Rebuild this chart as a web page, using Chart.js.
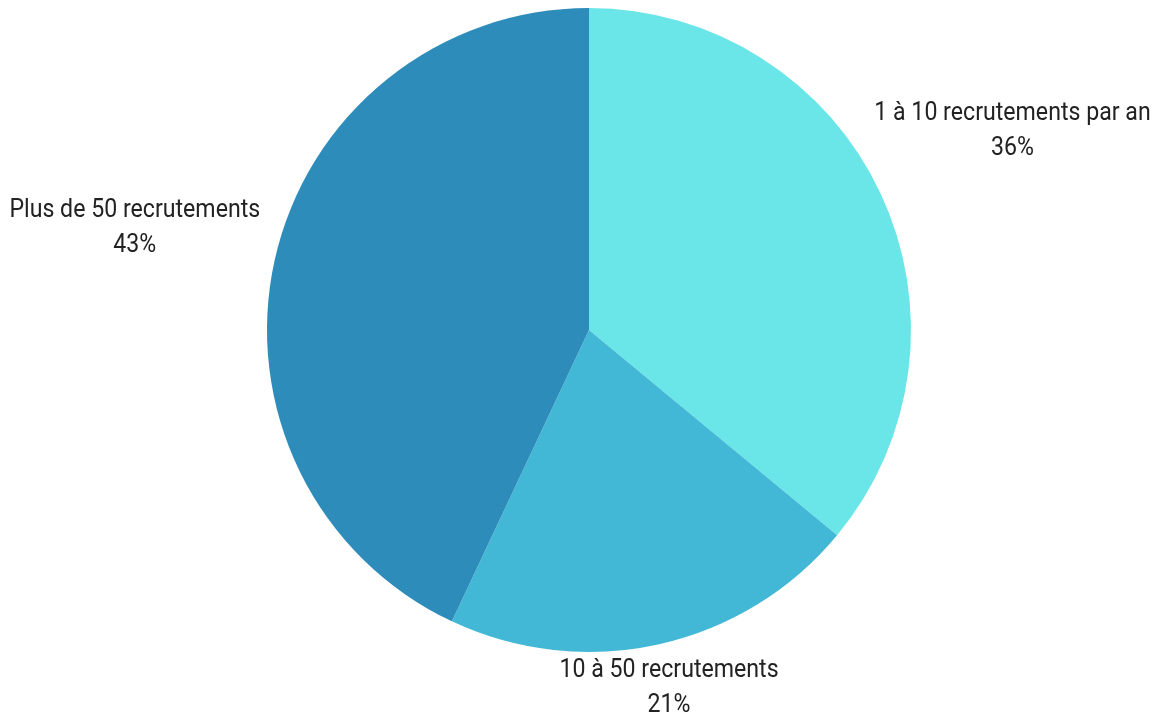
<!DOCTYPE html>
<html lang="fr">
<head>
<meta charset="utf-8">
<title>Recrutements par an</title>
<script src="https://cdn.jsdelivr.net/npm/chart.js@4/dist/chart.umd.min.js"></script>
<style>
  html, body { margin: 0; padding: 0; background: #ffffff; }
  #wrap { width: 1175px; height: 718px; position: relative; }
</style>
</head>
<body>
<div id="wrap"><canvas id="pie"></canvas></div>
<script>
// Répartition des entreprises selon le volume de recrutements annuel
const categories = ['1 à 10 recrutements par an', '10 à 50 recrutements', 'Plus de 50 recrutements'];
const shares = [36, 21, 43];
const sliceColors = ['#6ae5e8', '#43b8d6', '#2e8cba'];

// Two-line outside labels (name + percentage) placed on each slice's mid-angle ray
const outsideLabels = {
  id: 'outsideLabels',
  afterDatasetsDraw(chart, args, opts) {
    const ctx = chart.ctx;
    const meta = chart.getDatasetMeta(0);
    const lineH = opts.lineHeight;
    const sx = opts.scaleX;
    ctx.save();
    ctx.font = opts.fontSize + 'px Roboto, "Noto Sans", sans-serif';
    ctx.fillStyle = opts.color;
    ctx.textAlign = 'center';
    ctx.textBaseline = 'middle';
    meta.data.forEach((arc, i) => {
      const lines = [chart.data.labels[i], chart.data.datasets[0].data[i] + '%'];
      const w = Math.max(...lines.map(t => ctx.measureText(t).width)) * sx;
      const mid = (arc.startAngle + arc.endAngle) / 2;
      const dx = Math.cos(mid), dy = Math.sin(mid);
      const d = arc.outerRadius + opts.gap + Math.abs(dx) * w / 2;
      const cx = arc.x + dx * d;
      const cy = arc.y + dy * d;
      const top = cy - lines.length * lineH / 2;
      lines.forEach((t, k) => {
        ctx.save();
        ctx.translate(cx, top + lineH * (k + 0.5));
        ctx.scale(sx, 1);
        ctx.fillText(t, 0, 0);
        ctx.restore();
      });
    });
    ctx.restore();
  }
};

new Chart(document.getElementById('pie'), {
  type: 'pie',
  data: {
    labels: categories,
    datasets: [{
      data: shares,
      backgroundColor: sliceColors,
      borderWidth: 0,
      hoverOffset: 0
    }]
  },
  options: {
    responsive: true,
    maintainAspectRatio: false,
    animation: false,
    layout: { padding: { left: 267, right: 264, top: 8, bottom: 66 } },
    plugins: {
      legend: { display: false },
      tooltip: { enabled: false },
      outsideLabels: { fontSize: 26, lineHeight: 35, scaleX: 0.89, gap: 21, color: '#222222' }
    }
  },
  plugins: [outsideLabels]
});
</script>
</body>
</html>
